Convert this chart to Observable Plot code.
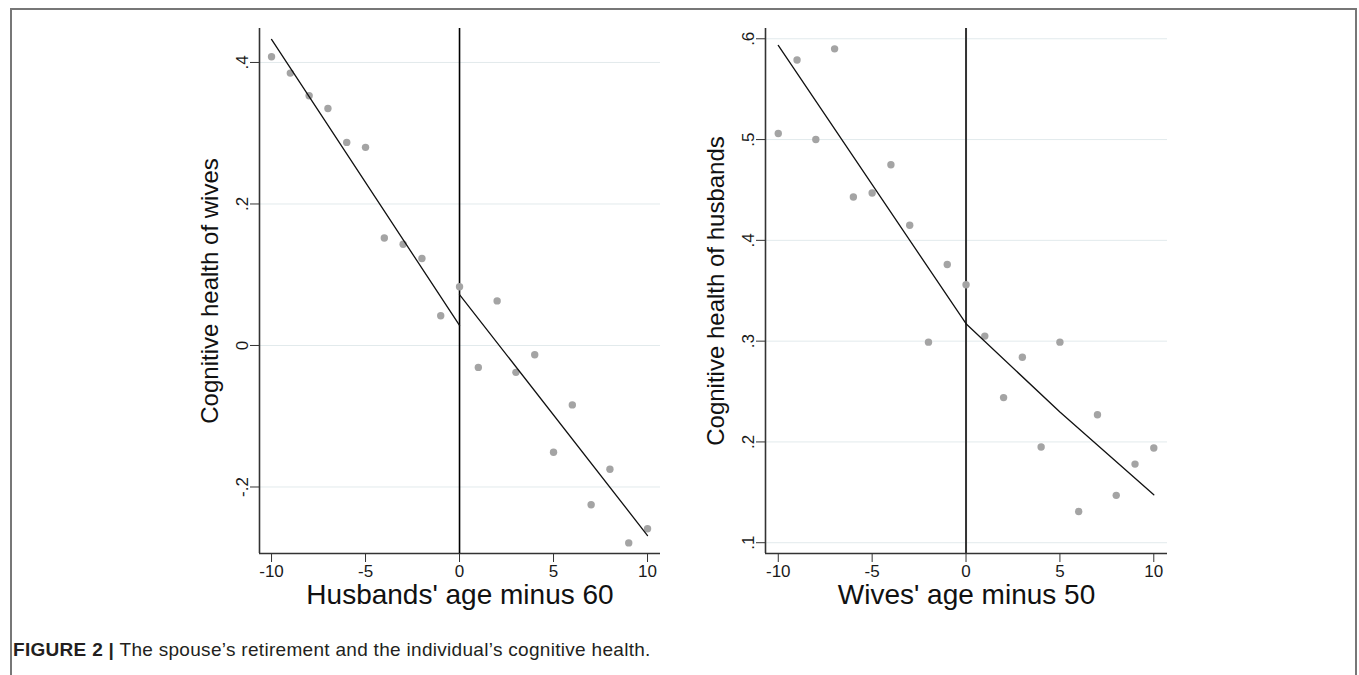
<!DOCTYPE html>
<html>
<head>
<meta charset="utf-8">
<script src="https://cdn.jsdelivr.net/npm/d3@7"></script>
<script src="https://cdn.jsdelivr.net/npm/@observablehq/plot@0.6"></script>
<style>
  html, body { margin: 0; padding: 0; background: #fff; }
  #page { position: relative; width: 1359px; height: 675px; overflow: hidden; font-family: "Liberation Sans", Arial, sans-serif; }
  #frame { position: absolute; left: 10px; top: 8px; width: 1347px; height: 700px; border-top: 2px solid #777; border-left: 2px solid #777; border-right: 2px solid #777; box-sizing: border-box; }
  .panel { position: absolute; top: 0; }
  #caption { position: absolute; left: 13px; top: 639px; font-size: 19px; letter-spacing: 0.3px; color: #231f20; white-space: nowrap; }
  #caption b { font-weight: bold; }
</style>
</head>
<body>
<div id="page">
  <div id="frame"></div>
  <div id="left" class="panel" style="left:150px"></div>
  <div id="right" class="panel" style="left:660px"></div>
  <div id="caption"><b>FIGURE 2 |</b> The spouse’s retirement and the individual’s cognitive health.</div>
</div>
<script>
// ---- data ----
const ageGap = [-10, -9, -8, -7, -6, -5, -4, -3, -2, -1, 0, 1, 2, 3, 4, 5, 6, 7, 8, 9, 10];

// Left panel: cognitive health of wives vs husbands' age minus 60
const wivesHealth = [0.408, 0.385, 0.353, 0.335, 0.287, 0.280, 0.152, 0.143, 0.123, 0.042,
                     0.083, -0.031, 0.063, -0.038, -0.013, -0.151, -0.084, -0.225, -0.175, -0.279, -0.259];
const wivesFitBeforeX = [-10, 0];
const wivesFitBeforeY = [0.4325, 0.0283];
const wivesFitAfterX = [0, 10];
const wivesFitAfterY = [0.072, -0.2686];
const wivesYTicks = [-0.2, 0, 0.2, 0.4];

// Right panel: cognitive health of husbands vs wives' age minus 50
const husbandsHealth = [0.506, 0.579, 0.500, 0.590, 0.443, 0.447, 0.475, 0.415, 0.299, 0.376,
                        0.356, 0.305, 0.244, 0.284, 0.195, 0.299, 0.131, 0.227, 0.147, 0.178, 0.194];
const husbandsFitBeforeX = [-10, 0];
const husbandsFitBeforeY = [0.5934, 0.3173];
const husbandsFitAfterX = [0, 5, 10];
const husbandsFitAfterY = [0.3173, 0.2296, 0.1476];
const husbandsYTicks = [0.1, 0.2, 0.3, 0.4, 0.5, 0.6];

const xTicks = [-10, -5, 0, 5, 10];

const xLabelLeft = "Husbands' age minus 60";
const yLabelLeft = "Cognitive health of wives";
const xLabelRight = "Wives' age minus 50";
const yLabelRight = "Cognitive health of husbands";

// ---- helpers ----
const fmtY = d => d === 0 ? "0" : (d < 0 ? "-" : "") + Math.abs(d).toFixed(1).replace(/^0/, "");
const fmtX = d => (d < 0 ? "-" : "") + Math.abs(d);
const zip = (xs, ys) => xs.map((x, i) => ({x, y: ys[i]}));

function panel({pts, fitA, fitB, yTicks, xDomain, yDomain, xLabel, yLabel, marginLeft, marginRight, ruleColor, ruleWidth}) {
  return Plot.plot({
    width: 520,
    height: 620,
    marginTop: 28,
    marginBottom: 67,
    marginLeft,
    marginRight,
    style: {background: "transparent", overflow: "visible", fontFamily: "'Liberation Sans', Arial, sans-serif", fontSize: "17px", color: "#222"},
    x: {domain: xDomain},
    y: {domain: yDomain},
    marks: [
      Plot.gridY(yTicks, {stroke: "#e2eaec", strokeOpacity: 1, strokeWidth: 1}),
      Plot.ruleX([xDomain[0]], {stroke: "#333", strokeWidth: 1.6}),
      Plot.ruleY([yDomain[0]], {stroke: "#333", strokeWidth: 1.6}),
      Plot.axisX({ticks: xTicks, tickFormat: fmtX, tickSize: 9, tickPadding: 2, label: null, stroke: "#333", fontSize: 17, fill: "#1a1a1a"}),
      Plot.axisY({ticks: yTicks, tickFormat: fmtY, tickSize: 9, tickRotate: -90, label: null, stroke: "#333", fontSize: 17, fill: "#1a1a1a"}),
      Plot.ruleX([0], {stroke: ruleColor, strokeWidth: ruleWidth}),
      Plot.dot(pts, {x: "x", y: "y", r: 3.7, fill: "#a4a4a4", stroke: "none"}),
      Plot.line(fitA, {x: "x", y: "y", stroke: "#111", strokeWidth: 1.3}),
      Plot.line(fitB, {x: "x", y: "y", stroke: "#111", strokeWidth: 1.3}),
      Plot.text([xLabel], {frameAnchor: "bottom", lineAnchor: "middle", textAnchor: "middle", dy: 42, fontSize: 28, fill: "#111"}),
      Plot.text([yLabel], {frameAnchor: "left", lineAnchor: "middle", textAnchor: "middle", rotate: -90, dx: -49, fontSize: 24, fill: "#111"})
    ]
  });
}

document.getElementById("left").appendChild(panel({
  pts: zip(ageGap, wivesHealth),
  fitA: zip(wivesFitBeforeX, wivesFitBeforeY),
  fitB: zip(wivesFitAfterX, wivesFitAfterY),
  yTicks: wivesYTicks,
  xDomain: [-10.64, 10.69],
  yDomain: [-0.294, 0.448],
  xLabel: xLabelLeft,
  yLabel: yLabelLeft,
  marginLeft: 109,
  marginRight: 10,
  ruleColor: "#000",
  ruleWidth: 1.6
}));

document.getElementById("right").appendChild(panel({
  pts: zip(ageGap, husbandsHealth),
  fitA: zip(husbandsFitBeforeX, husbandsFitBeforeY),
  fitB: zip(husbandsFitAfterX, husbandsFitAfterY),
  yTicks: husbandsYTicks,
  xDomain: [-10.68, 10.73],
  yDomain: [0.0893, 0.6102],
  xLabel: xLabelRight,
  yLabel: yLabelRight,
  marginLeft: 105,
  marginRight: 13,
  ruleColor: "#333",
  ruleWidth: 2
}));
</script>
</body>
</html>
